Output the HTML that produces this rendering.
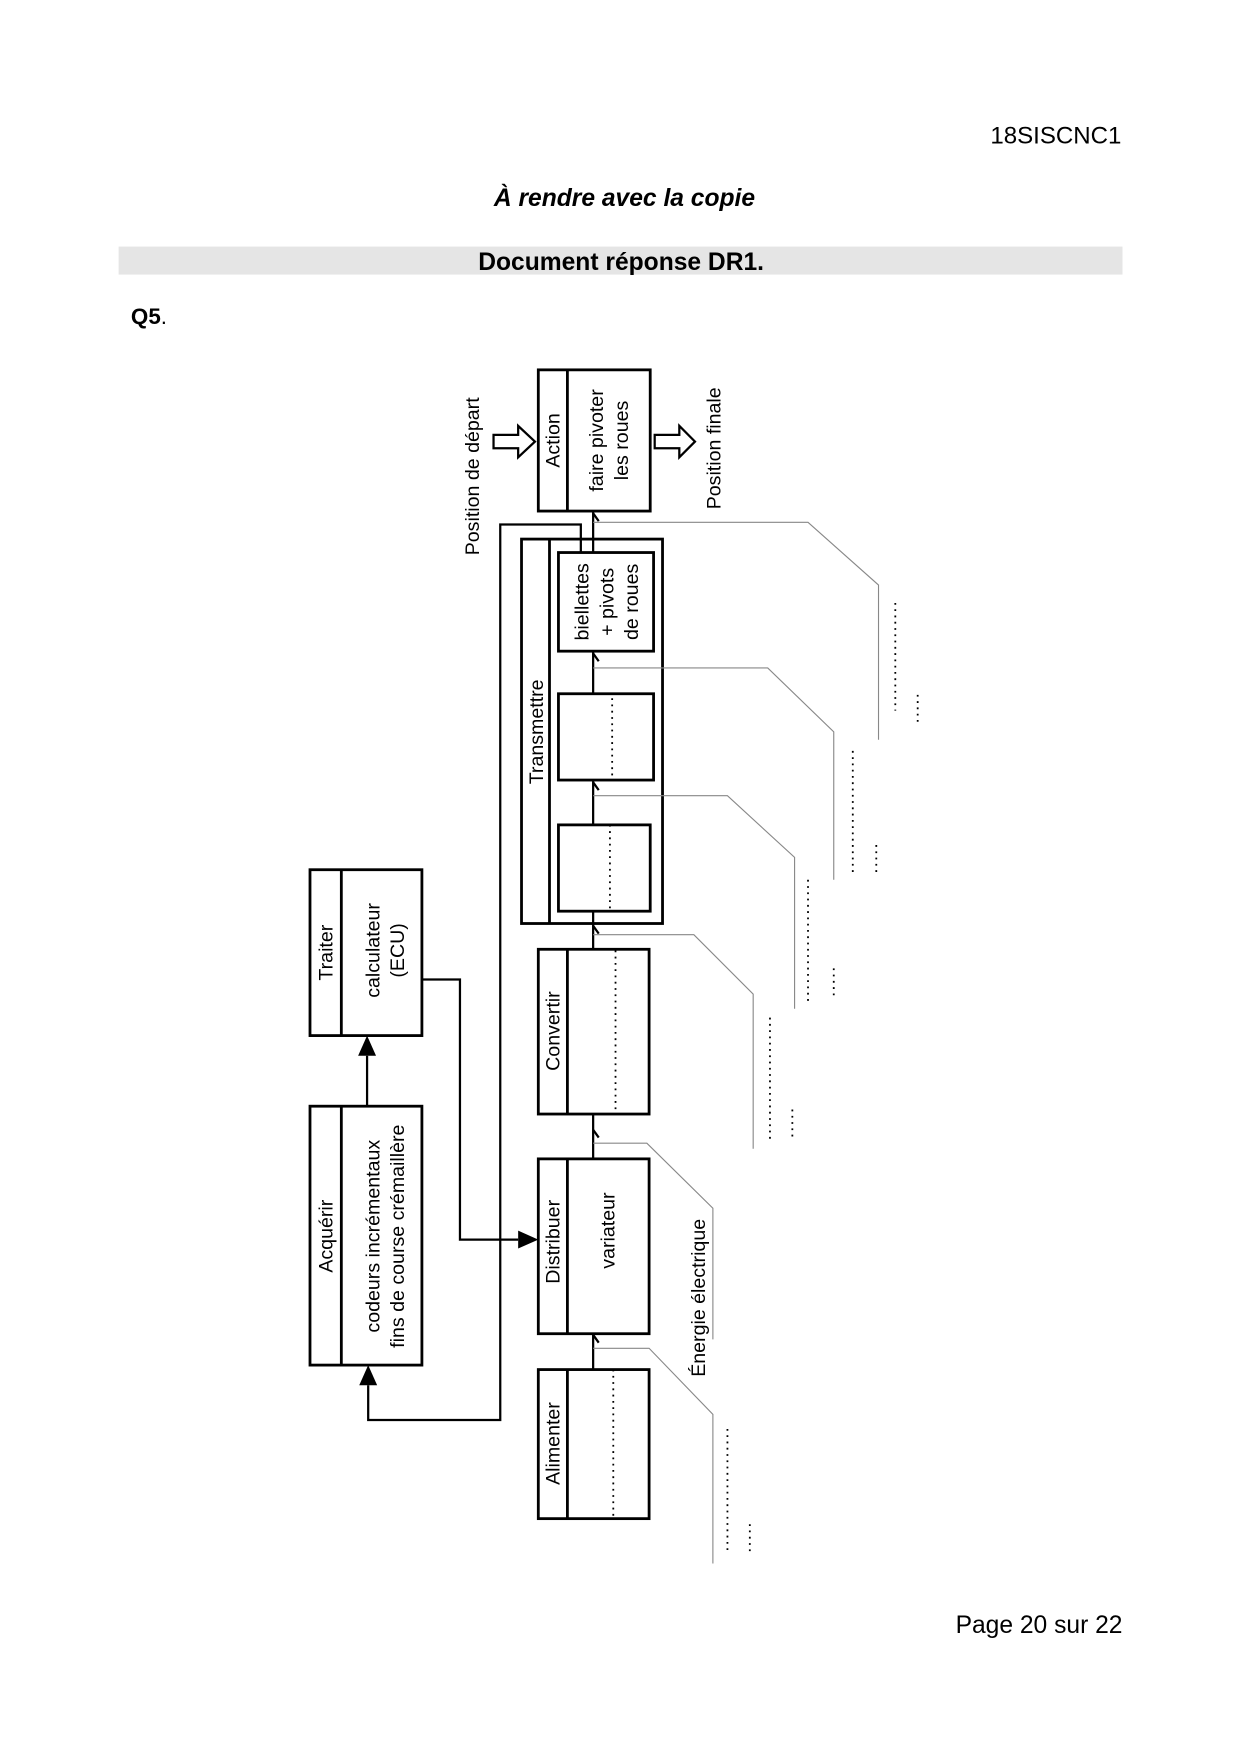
<!DOCTYPE html>
<html><head><meta charset="utf-8"><style>
html,body{margin:0;padding:0;background:#fff;}
svg{display:block;}
text{font-family:"Liberation Sans",sans-serif;fill:#000;}
</style></head><body>
<svg width="1240" height="1754" viewBox="0 0 1108 1565" preserveAspectRatio="none" xmlns="http://www.w3.org/2000/svg">
<text x="1002" y="128" font-size="21.5" text-anchor="end">18SISCNC1</text>
<text x="558" y="184" font-size="22" font-weight="bold" font-style="italic" text-anchor="middle">À rendre avec la copie</text>
<rect x="106" y="220" width="897" height="25" fill="#e5e5e5"/>
<text x="555" y="241" font-size="22" font-weight="bold" text-anchor="middle">Document réponse DR1.</text>
<text x="117" y="289" font-size="20"><tspan font-weight="bold">Q5</tspan>.</text>
<text x="1003" y="1457" font-size="22" text-anchor="end">Page 20 sur 22</text>

<g fill="none" stroke="#000" stroke-width="2.5">
<rect x="481" y="330" width="100" height="126"/><line x1="507" y1="330" x2="507" y2="456"/>
<rect x="466" y="481" width="126" height="343"/><line x1="491" y1="481" x2="491" y2="824"/>
<rect x="499" y="493" width="85" height="88"/>
<rect x="499" y="619" width="85" height="77"/>
<rect x="499" y="736" width="82" height="77"/>
<rect x="481" y="847" width="99" height="147"/><line x1="507" y1="847" x2="507" y2="994"/>
<rect x="481" y="1034" width="99" height="156"/><line x1="507" y1="1034" x2="507" y2="1190"/>
<rect x="481" y="1222" width="99" height="133"/><line x1="507" y1="1222" x2="507" y2="1355"/>
<rect x="277" y="776" width="100" height="148"/><line x1="305" y1="776" x2="305" y2="924"/>
<rect x="277" y="987" width="100" height="231"/><line x1="305" y1="987" x2="305" y2="1218"/>
</g>
<g fill="none" stroke="#000" stroke-width="2">
<line x1="530" y1="457" x2="530" y2="493"/>
<line x1="530" y1="582" x2="530" y2="619"/>
<line x1="530" y1="697" x2="530" y2="736"/>
<line x1="530" y1="813" x2="530" y2="847"/>
<line x1="530" y1="994" x2="530" y2="1034"/>
<line x1="530" y1="1190" x2="530" y2="1222"/>
<polyline points="530,458 535,465"/>
<polyline points="530,583 535,590"/>
<polyline points="530,698 535,705"/>
<polyline points="530,826 535,833"/>
<polyline points="530,1008 535,1015"/>
<polyline points="530,1191 535,1198"/>
<polyline points="519,493 519,468 447,468 447,1267 329,1267 329,1236"/>
<line x1="328" y1="987" x2="328" y2="942"/>
<polyline points="377,874 411,874 411,1106 463,1106"/>
</g>
<polygon points="328,924 320,942 336,942" fill="#000"/>
<polygon points="329,1218 321,1236 337,1236" fill="#000"/>
<polygon points="481,1106 463,1098 463,1114" fill="#000"/>
<polygon points="441,388 463,388 463,380 478,394 463,408 463,400 441,400" fill="#fff" stroke="#000" stroke-width="2"/>
<polygon points="585,388 607,388 607,380 621,394 607,408 607,400 585,400" fill="#fff" stroke="#000" stroke-width="2"/>
<g fill="none" stroke="#888" stroke-width="1">
<polyline points="530,466 722,466 785,522 785,660"/>
<polyline points="530,596 686,596 745,653 745,785"/>
<polyline points="530,710 650,710 710,765 710,900"/>
<polyline points="530,834 620,834 673,887 673,1025"/>
<polyline points="530,1020 578,1020 637,1078 637,1195"/>
<polyline points="530,1203 580,1203 637,1262 637,1395"/>
</g>
<g fill="none" stroke="#000" stroke-width="1.6" stroke-dasharray="1.6,4">
<line x1="547" y1="623" x2="547" y2="696"/>
<line x1="545" y1="736" x2="545" y2="812"/>
<line x1="550" y1="848" x2="550" y2="992"/>
<line x1="548" y1="1222" x2="548" y2="1355"/>
<line x1="800" y1="538" x2="800" y2="634"/>
<line x1="820" y1="620" x2="820" y2="645"/>
<line x1="762" y1="670" x2="762" y2="780"/>
<line x1="783" y1="754" x2="783" y2="778"/>
<line x1="722" y1="785" x2="722" y2="895"/>
<line x1="745" y1="864" x2="745" y2="890"/>
<line x1="688" y1="908" x2="688" y2="1020"/>
<line x1="708" y1="990" x2="708" y2="1015"/>
<line x1="650" y1="1275" x2="650" y2="1387"/>
<line x1="670" y1="1360" x2="670" y2="1387"/>
</g>
<g font-size="17.5" text-anchor="middle">
<text transform="translate(500,393) rotate(-90)">Action</text>
<text transform="translate(539,393) rotate(-90)">faire pivoter</text>
<text transform="translate(561,393) rotate(-90)">les roues</text>
<text transform="translate(428,425) rotate(-90)">Position de départ</text>
<text transform="translate(644,400) rotate(-90)">Position finale</text>
<text transform="translate(485,653) rotate(-90)">Transmettre</text>
<text transform="translate(526,537) rotate(-90)">biellettes</text>
<text transform="translate(548,537) rotate(-90)">+ pivots</text>
<text transform="translate(570,537) rotate(-90)">de roues</text>
<text transform="translate(500,920) rotate(-90)">Convertir</text>
<text transform="translate(500,1108) rotate(-90)">Distribuer</text>
<text transform="translate(549,1098) rotate(-90)">variateur</text>
<text transform="translate(500,1288) rotate(-90)">Alimenter</text>
<text transform="translate(297,850) rotate(-90)">Traiter</text>
<text transform="translate(339,848) rotate(-90)">calculateur</text>
<text transform="translate(361,848) rotate(-90)">(ECU)</text>
<text transform="translate(297,1103) rotate(-90)">Acquérir</text>
<text transform="translate(339,1103) rotate(-90)">codeurs incrémentaux</text>
<text transform="translate(361,1103) rotate(-90)">fins de course crémaillère</text>
<text transform="translate(630,1158) rotate(-90)">Énergie électrique</text>
</g>
</svg>
</body></html>
